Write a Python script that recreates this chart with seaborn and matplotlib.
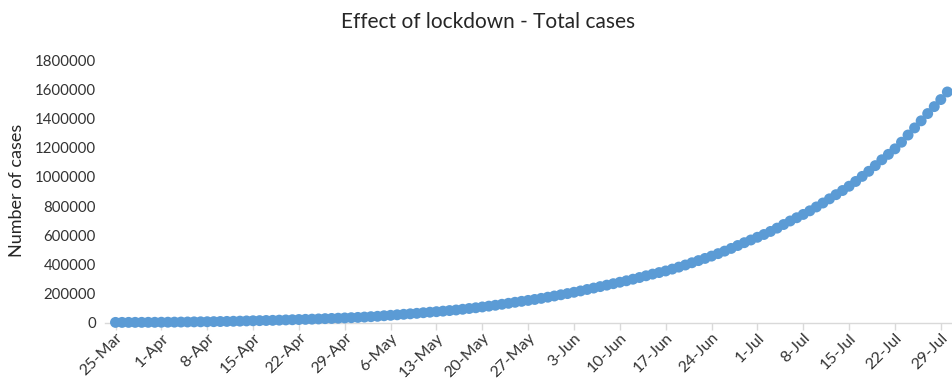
import matplotlib
matplotlib.use("Agg")
import matplotlib.pyplot as plt
import matplotlib.dates as mdates
import matplotlib.ticker as mticker
import pandas as pd
import seaborn as sns

# Cumulative confirmed cases, one value per day from 25-Mar to 30-Jul
start_date = "2020-03-25"
total_cases = [
    657, 727, 887, 987, 1024, 1251, 1397,                                   # 25-31 Mar
    1834, 2069, 2547, 3072, 3577, 4281, 4789, 5274, 5865, 6761,             # 1-10 Apr
    7529, 8447, 9352, 10815, 11933, 12759, 13835, 14792, 16116, 17656,      # 11-20 Apr
    18985, 20471, 21700, 23077, 24506, 26496, 27892, 29435, 31332, 33050,   # 21-30 Apr
    35043, 37336, 39980, 42533, 46433, 49391, 52952, 56342, 59662, 62939,   # 1-10 May
    67152, 70756, 74281, 78003, 81970, 85940, 90927, 96169, 101139, 106750,  # 11-20 May
    112359, 118447, 125101, 131868, 138845, 145380, 151767, 158333, 165799,
    173763, 182143,                                                         # 21-31 May
    190535, 198706, 207615, 216919, 226770, 236657, 246628, 256611, 266598,
    276583,                                                                 # 1-10 Jun
    286579, 297535, 308993, 320922, 332424, 343091, 354065, 366946, 380532,
    395048,                                                                 # 11-20 Jun
    410461, 425282, 440215, 456183, 473105, 490401, 508953, 528859, 548318,
    566840,                                                                 # 21-30 Jun
    585481, 604641, 625544, 648315, 673165, 697413, 719665, 742417, 767296,
    793802,                                                                 # 1-10 Jul
    820916, 849553, 878254, 906752, 936181, 968876, 1003832, 1038716,
    1077781, 1118043,                                                       # 11-20 Jul
    1155191, 1192915, 1238635, 1287945, 1336861, 1385522, 1435453, 1483156,
    1531669, 1583792,                                                       # 21-30 Jul
]
y_ticks = [0, 200000, 400000, 600000, 800000, 1000000, 1200000, 1400000, 1600000, 1800000]

dates = pd.date_range(start_date, periods=len(total_cases), freq="D")
df = pd.DataFrame({"date": dates, "cases": total_cases})

sns.set_theme(style="white")
plt.rcParams["font.family"] = ["Lato", "DejaVu Sans"]

W, H = 953, 379
fig = plt.figure(figsize=(W / 100, H / 100), dpi=100)

# axes placed in pixel terms: bottom at value 0, top at 1,800,000
ax_left, ax_right = 105, 953
ax_top, ax_bottom = 60.5, 322.5
ax = fig.add_axes([ax_left / W, 1 - ax_bottom / H,
                   (ax_right - ax_left) / W, (ax_bottom - ax_top) / H])

blue = "#5B9BD5"
sns.scatterplot(data=df, x="date", y="cases", ax=ax, color=blue,
                s=62, linewidth=0, edgecolor="none", clip_on=False, zorder=3)

px_per_day = 6.55
first_px = 115.5
x0 = dates[0] - pd.Timedelta(days=(first_px - ax_left) / px_per_day)
x1 = dates[0] + pd.Timedelta(days=(ax_right - first_px) / px_per_day)
ax.set_xlim(x0, x1)
ax.set_ylim(0, 1800000)

ax.set_xticks(pd.date_range(start_date, dates[-1], freq="7D"))
ax.xaxis.set_major_formatter(mdates.DateFormatter("%-d-%b"))
ax.set_yticks(y_ticks)
ax.yaxis.set_major_formatter(mticker.FuncFormatter(lambda v, p: f"{int(v)}"))

text_col = "#333333"
for side in ["left", "right", "top"]:
    ax.spines[side].set_visible(False)
ax.spines["bottom"].set_color("#D9D9D9")
ax.spines["bottom"].set_linewidth(1.0)
ax.tick_params(axis="x", which="major", bottom=True, length=5, width=1.0,
               color="#D9D9D9", labelsize=11.5, labelcolor=text_col, pad=1)
ax.tick_params(axis="y", left=False, labelsize=10.8, labelcolor=text_col, pad=0.5)
for lbl in ax.get_xticklabels():
    lbl.set_rotation(45)
    lbl.set_ha("right")
    lbl.set_rotation_mode("anchor")
ax.grid(False)
ax.set_xlabel("")
ax.set_ylabel("")

fig.text(488 / W, 1 - 22 / H, "Effect of lockdown - Total cases",
         ha="center", va="center", fontsize=15, color="#262626")
fig.text(17 / W, 1 - 190 / H, "Number of cases", rotation=90,
         ha="center", va="center", fontsize=13, color="#262626")

fig.savefig("out.png", dpi=100, facecolor="white")
